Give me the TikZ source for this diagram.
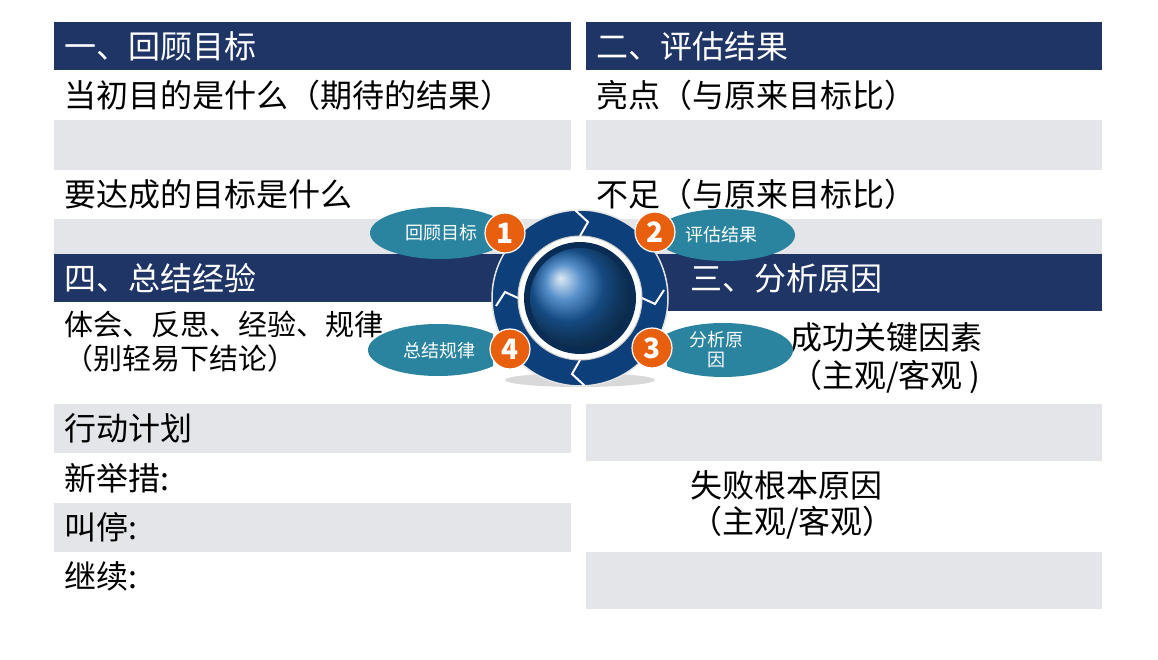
\documentclass[tikz,border=0pt]{standalone}
\usepackage{fontspec}
\setmainfont{Noto Sans CJK SC}
\begin{document}
\begin{tikzpicture}[x=1pt,y=-1pt,
  hdr/.style={fill=navy,draw=none},
  gr/.style={fill=lgray,draw=none},
  t/.style={anchor=west,font=\fontsize{32}{36}\selectfont,inner sep=0},
  ts/.style={t,font=\fontsize{29}{33}\selectfont},
  th/.style={t,text=white},
  badge/.style={circle,fill=orng,draw=white,line width=1.2pt,minimum size=40pt,inner sep=0,text=white,font=\fontsize{28}{28}\selectfont\bfseries},
  lab/.style={text=white,font=\fontsize{18}{20}\selectfont,align=center,inner sep=0}]
\definecolor{navy}{HTML}{1F3566}
\definecolor{lgray}{HTML}{E4E5E9}
\definecolor{teal}{HTML}{2A84A0}
\definecolor{orng}{HTML}{E8600E}
\definecolor{ring}{HTML}{0D3F7A}
\definecolor{ballc}{HTML}{1E6AB8}
\useasboundingbox (0,0) rectangle (1158,660);
\fill[white] (0,0) rectangle (1158,660);
% left column
\fill[hdr] (54,22) rectangle (571,70);
\fill[gr] (54,120) rectangle (571,170);
\fill[gr] (54,219) rectangle (571,254);
\fill[hdr] (54,254) rectangle (571,302);
\fill[gr] (54,404) rectangle (571,453);
\fill[gr] (54,503) rectangle (571,552);
% right column
\fill[hdr] (586,22) rectangle (1102,70);
\fill[gr] (586,120) rectangle (1102,170);
\fill[gr] (586,219) rectangle (1102,254);
\fill[hdr] (586,254) rectangle (1102,311);
\fill[gr] (586,404) rectangle (1102,461);
\fill[gr] (586,552) rectangle (1102,609);
% texts
\node[th] (h1) at (64,46) {一、回顾目标};
\node[t] (a1) at (64,95) {当初目的是什么（期待的结果）};
\node[t] (a2) at (64,194) {要达成的目标是什么};
\node[th] (h4) at (64,278) {四、总结经验};
\node[ts] (b1) at (64,324) {体会、反思、经验、规律};
\node[ts] (b2) at (64,358) {（别轻易下结论）};
\node[t] (b3) at (64,428) {行动计划};
\node[t] (b4) at (64,478) {新举措:};
\node[t] (b5) at (64,527) {叫停:};
\node[t] (b6) at (64,576) {继续:};
\node[th] (h2) at (596,46) {二、评估结果};
\node[t] (c1) at (596,95) {亮点（与原来目标比）};
\node[t] (c2) at (596,194) {不足（与原来目标比）};
\node[th] (h3) at (690,278) {三、分析原因};
\node[t] (d1) at (790,337) {成功关键因素};
\node[t] (d2) at (790,377) {（主观/客观 )};
\node[t] (d3) at (690,485) {失败根本原因};
\node[t] (d4) at (690,523) {（主观/客观）};
% ellipses
\begin{scope}
\clip (360,200) rectangle (493,270);
\fill[teal] (440,233) ellipse (70 and 26);
\end{scope}
\begin{scope}
\clip (360,315) rectangle (493,385);
\fill[teal] (438,350) ellipse (70 and 26);
\end{scope}
\begin{scope}
\clip (667,200) rectangle (800,270);
\fill[teal] (725,235) ellipse (70 and 26);
\end{scope}
\begin{scope}
\clip (667,315) rectangle (800,385);
\fill[teal] (723,350) ellipse (70 and 27);
\end{scope}
% central graphic
\fill[gray!30] (580,380) ellipse (75 and 7);
\fill[ring,draw=white!80!gray,line width=1.5pt] (580,298) circle (88);
\fill[white,draw=gray!40,line width=1pt] (580,298) circle (62);
\fill[ring!70!black] (580,298) circle (56);
\shade[ball color=ballc] (580,298) circle (50);
% arrow notches
\draw[white,line width=2pt] (575,210)--(588,222)--(580,236);
\draw[white,line width=2pt] (664,290)--(655,304)--(642,298);
\draw[white,line width=2pt] (585,386)--(572,374)--(580,360);
\draw[white,line width=2pt] (496,306)--(505,292)--(518,298);
\node[lab] (l1) at (441,233) {回顾目标};
\node[lab] (l2) at (721,235) {评估结果};
\node[lab] (l3) at (716,350) {分析原\\因};
\node[lab] (l4) at (439,351) {总结规律};
\node[badge] (n1) at (505,233) {1};
\node[badge] (n2) at (655,232) {2};
\node[badge] (n3) at (652,348) {3};
\node[badge] (n4) at (510,349) {4};
\end{tikzpicture}
\end{document}
